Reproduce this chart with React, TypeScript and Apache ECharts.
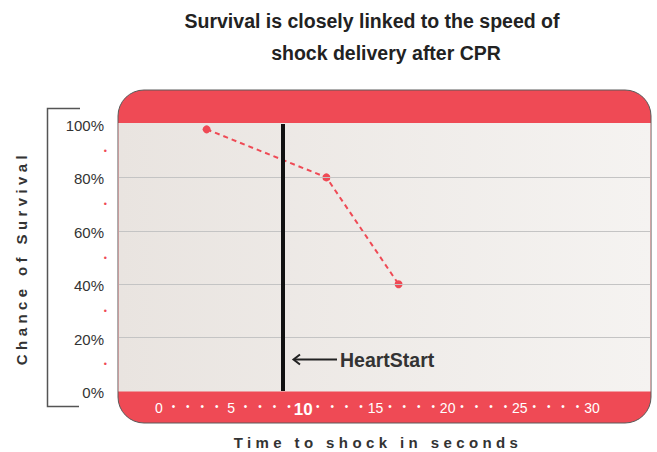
import React, { useEffect, useRef } from "react";
import * as echarts from "echarts";

const titleLine1 = "Survival is closely linked to the speed of";
const titleLine2 = "shock delivery after CPR";
const yAxisName = "Chance of Survival";
const xAxisName = "Time to shock in seconds";
const heartStartLabel = "HeartStart";

const shockSeconds = [3.3, 11.6, 16.6];
const survivalPct = [98, 80, 40];
const heartStartSeconds = 8.6;
const gridLevels = [20, 40, 60, 80];
const xTicks = [0, 1, 2, 3, 4, 5, 6, 7, 8, 9, 10, 11, 12, 13, 14, 15, 16, 17, 18, 19, 20, 21, 22, 23, 24, 25, 26, 27, 28, 29, 30];
const xMin = -2.77;
const xMax = 34.02;

const RED = "#ef4a55";
const FONT = "'Liberation Sans', Arial, sans-serif";

const css = `
body{margin:0}
text[style*="15.01px"]{letter-spacing:4.4px}
`;

export default function App() {
  const ref = useRef<HTMLDivElement>(null);
  useEffect(() => {
    if (!ref.current) return;
    const chart = echarts.init(ref.current, null, { renderer: "svg" });
    chart.setOption({
      animation: false,
      backgroundColor: "#ffffff",
      grid: { left: 119, right: 7, top: 124, bottom: 61 },
      xAxis: {
        type: "value",
        min: xMin,
        max: xMax,
        axisLine: { show: false },
        axisTick: { show: false },
        splitLine: { show: false },
        axisLabel: {
          customValues: xTicks,
          margin: 10,
          formatter: (v: number) =>
            v % 5 === 0 ? (v === 10 ? `{b|${v}}` : `{n|${v}}`) : "{d|•}",
          rich: {
            n: { color: "#ffffff", fontSize: 14, fontFamily: FONT },
            b: { color: "#ffffff", fontSize: 17, fontWeight: "bold", fontFamily: FONT },
            d: { color: "#ffffff", fontSize: 10, fontFamily: FONT },
          },
        },
      },
      yAxis: {
        type: "value",
        min: 0,
        max: 100,
        interval: 10,
        axisLine: { show: false },
        axisTick: { show: false },
        splitLine: { show: false },
        axisLabel: {
          margin: 12,
          formatter: (v: number) => (v % 20 === 0 ? `{p|${v}%}` : "{d|•}"),
          rich: {
            p: { color: "#333333", fontSize: 15, fontFamily: FONT, padding: [3, 3, 0, 0] },
            d: { color: RED, fontSize: 9, fontFamily: FONT },
          },
        },
      },
      graphic: [
        {
          type: "rect",
          z: -10,
          shape: { x: 118, y: 90, width: 533, height: 333, r: 26 },
          style: { fill: RED, stroke: "#5a5a5a", lineWidth: 1 },
        },
        {
          type: "rect",
          z: -9,
          shape: { x: 118.5, y: 123, width: 532, height: 268.5 },
          style: {
            fill: new echarts.graphic.LinearGradient(0, 0, 1, 0, [
              { offset: 0, color: "#e9e4e0" },
              { offset: 1, color: "#f5f3f1" },
            ]),
          },
        },
        {
          type: "polyline",
          shape: { points: [[80, 108.5], [47.5, 108.5], [47.5, 406.5], [79, 406.5]] },
          style: { fill: "none", stroke: "#555555", lineWidth: 1.5 },
        },
        {
          type: "line",
          z: 10,
          shape: { x1: 294, y1: 359.5, x2: 337, y2: 359.5 },
          style: { stroke: "#222222", lineWidth: 2 },
        },
        {
          type: "polyline",
          z: 10,
          shape: { points: [[300, 354.5], [293.5, 359.5], [300, 364.5]] },
          style: { fill: "none", stroke: "#222222", lineWidth: 2 },
        },
        {
          type: "text",
          z: 10,
          x: 340,
          y: 359.5,
          style: {
            text: heartStartLabel,
            fill: "#333333",
            font: `bold 19.5px ${FONT}`,
            align: "left",
            verticalAlign: "middle",
          },
        },
        {
          type: "text",
          x: 21,
          y: 258,
          rotation: Math.PI / 2,
          style: {
            text: yAxisName,
            fill: "#333333",
            font: `bold 15.01px ${FONT}`,
            align: "center",
            verticalAlign: "middle",
          },
        },
        {
          type: "text",
          x: 378,
          y: 442,
          style: {
            text: xAxisName,
            fill: "#333333",
            font: `bold 15.01px ${FONT}`,
            align: "center",
            verticalAlign: "middle",
          },
        },
        {
          type: "text",
          x: 372,
          y: 21,
          style: {
            text: titleLine1,
            fill: "#222222",
            font: `bold 19.5px ${FONT}`,
            align: "center",
            verticalAlign: "middle",
          },
        },
        {
          type: "text",
          x: 386,
          y: 53,
          style: {
            text: titleLine2,
            fill: "#222222",
            font: `bold 19.5px ${FONT}`,
            align: "center",
            verticalAlign: "middle",
          },
        },
      ],
      series: [
        {
          type: "line",
          data: shockSeconds.map((s, i) => [s, survivalPct[i]]),
          lineStyle: { color: RED, width: 2, type: [5, 4] },
          symbol: "circle",
          symbolSize: 8,
          itemStyle: { color: RED },
          markLine: {
            silent: true,
            symbol: ["none", "none"],
            label: { show: false },
            data: [
              ...gridLevels.map((v) => ({
                yAxis: v,
                lineStyle: { color: "#c4c4c4", width: 1, type: "solid" },
              })),
              {
                xAxis: heartStartSeconds,
                lineStyle: { color: "#111111", width: 4, type: "solid" },
              },
            ],
          },
        },
      ],
    });
    return () => chart.dispose();
  }, []);
  return (
    <>
      <style>{css}</style>
      <div ref={ref} style={{ width: 657, height: 452 }} />
    </>
  );
}
